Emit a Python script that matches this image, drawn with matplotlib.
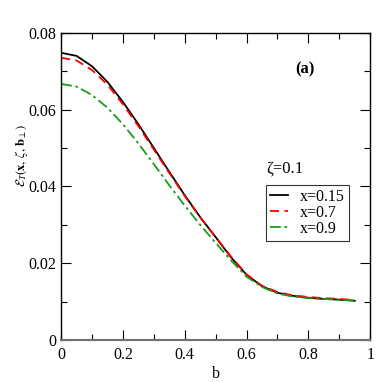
import numpy as np
import matplotlib
matplotlib.use("Agg")
import matplotlib.pyplot as plt
from matplotlib.ticker import MultipleLocator

b = [0.0, 0.05, 0.1, 0.15, 0.2, 0.25, 0.3, 0.35, 0.4, 0.45,
     0.5, 0.55, 0.6, 0.65, 0.7, 0.75, 0.8, 0.85, 0.9, 0.95]
e_x015 = [0.0748, 0.0740, 0.0713, 0.0672, 0.0620, 0.0562, 0.0500, 0.0438, 0.0377, 0.0320,
          0.0268, 0.0215, 0.0170, 0.0140, 0.0123, 0.0115, 0.0110, 0.0107, 0.0105, 0.0102]
e_x07 = [0.0735, 0.0728, 0.0703, 0.0665, 0.0614, 0.0557, 0.0496, 0.0435, 0.0375, 0.0319,
         0.0268, 0.0217, 0.0171, 0.0141, 0.0125, 0.0116, 0.0112, 0.0109, 0.0107, 0.0104]
e_x09 = [0.0667, 0.0660, 0.0638, 0.0605, 0.0562, 0.0512, 0.0458, 0.0403, 0.0350, 0.0300,
         0.0253, 0.0207, 0.0165, 0.0138, 0.0121, 0.0113, 0.0109, 0.0107, 0.0105, 0.0103]

plt.rcParams['font.family'] = ['Liberation Serif', 'DejaVu Serif']
plt.rcParams['mathtext.fontset'] = 'stix'

fig = plt.figure(figsize=(3.82, 3.82), dpi=100)
ax = fig.add_axes([0.160, 0.110, 0.809, 0.804])

ax.plot(b, e_x015, color='black', lw=1.3, label='x=0.15')
ax.plot(b, e_x07, color='red', lw=1.3, ls=(0, (5, 3)), label='x=0.7')
ax.plot(b, e_x09, color='#1a9a1a', lw=1.3, ls=(0, (6, 2, 1.5, 2)), label='x=0.9')

ax.set_xlim(0, 1)
ax.set_ylim(0, 0.08)
ax.xaxis.set_minor_locator(MultipleLocator(0.1))
ax.yaxis.set_minor_locator(MultipleLocator(0.01))
ax.set_xticks([0, 0.2, 0.4, 0.6, 0.8, 1])
ax.set_xticklabels(['0', '0.2', '0.4', '0.6', '0.8', '1'])
ax.set_yticks([0, 0.02, 0.04, 0.06, 0.08])
ax.set_yticklabels(['0', '0.02', '0.04', '0.06', '0.08'])
ax.tick_params(which='both', direction='in', top=True, right=True, labelsize=11.5)
ax.tick_params(which='major', length=7, width=0.8)
ax.tick_params(which='minor', length=4, width=0.8)
ax.tick_params(axis='x', pad=5)
for s in ax.spines.values():
    s.set_linewidth(1.0)
ax.spines['bottom'].set_color('#707070')
ax.spines['bottom'].set_linewidth(1.5)

ax.set_xlabel('b', fontsize=11.5, labelpad=2)
fig.text(0.055, 0.594, r'$\mathcal{E}_T(\mathbf{x},\,\zeta,\,\mathbf{b}_{\perp})$',
         rotation=90, ha='center', va='center', fontsize=9)

ax.text(0.79, 0.88, '(a)', transform=ax.transAxes, fontsize=12, fontweight='bold',
        ha='center', va='center')
ax.text(0.665, 0.56, 'ζ=0.1', transform=ax.transAxes, fontsize=12, ha='left', va='center')

leg = ax.legend(loc='upper left', bbox_to_anchor=(0.663, 0.505), fontsize=11.5,
                frameon=True, fancybox=False, edgecolor='black', handlelength=1.1,
                handletextpad=0.8, borderpad=0.25, labelspacing=0.0, borderaxespad=0)
leg.get_frame().set_linewidth(0.8)

fig.savefig('out.png', dpi=100)
